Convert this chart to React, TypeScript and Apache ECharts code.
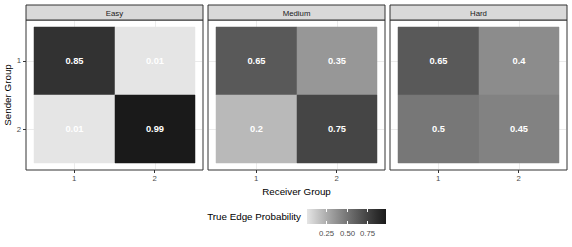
import React, { useEffect, useRef } from "react";
import * as echarts from "echarts";

const panelNames = ["Easy", "Medium", "Hard"];
const receiverGroups = ["1", "2"];
const senderGroups = ["1", "2"];
// values ordered: [sender1-receiver1, sender1-receiver2, sender2-receiver1, sender2-receiver2]
const easyValues = [0.85, 0.01, 0.01, 0.99];
const mediumValues = [0.65, 0.35, 0.2, 0.75];
const hardValues = [0.65, 0.4, 0.5, 0.45];
const panelValues = [easyValues, mediumValues, hardValues];
const legendTicks = [0.25, 0.5, 0.75];
const legendTitle = "True Edge Probability";
const xTitle = "Receiver Group";
const yTitle = "Sender Group";

const FONT = "Liberation Sans";
const grayStops = ["#e5e5e5", "#c8c8c8", "#acacac", "#919191", "#777777", "#5e5e5e", "#464646", "#2f2f2f", "#1a1a1a"];

export default function App() {
  const ref = useRef<HTMLDivElement>(null);
  useEffect(() => {
    if (!ref.current) return;
    const chart = echarts.init(ref.current, undefined, { renderer: "svg" });
    const all = panelValues.flat();
    const vMin = Math.min(...all);
    const vMax = Math.max(...all);

    const gridLefts = [26, 208, 390];
    const gridW = 177;
    const gridTop = 20;
    const gridH = 150;
    const axisMin = 0.4;
    const axisMax = 2.6;
    const tickVals = receiverGroups.map((_, i) => i + 1);

    const grids = gridLefts.map((l) => ({
      left: l, top: gridTop, width: gridW, height: gridH,
      show: true, borderColor: "#333333", borderWidth: 1, backgroundColor: "#ffffff",
    }));

    const xAxes = gridLefts.map((_, i) => ({
      gridIndex: i, type: "value", min: axisMin, max: axisMax,
      axisLine: { show: false },
      axisTick: { show: true, customValues: tickVals, length: 3, lineStyle: { color: "#333333" } },
      axisLabel: { customValues: tickVals, formatter: (v: number) => receiverGroups[v - 1] ?? "", color: "#4d4d4d", fontSize: 7.8, fontFamily: FONT, margin: 4 },
      splitLine: { show: false },
      name: i === 1 ? xTitle : "",
      nameLocation: "middle", nameGap: 14,
      nameTextStyle: { fontSize: 9.8, color: "#000", fontFamily: FONT },
    }));
    const yAxes = gridLefts.map((_, i) => ({
      gridIndex: i, type: "value", min: axisMin, max: axisMax, inverse: true,
      axisLine: { show: false },
      axisTick: { show: i === 0, customValues: tickVals, length: 3, lineStyle: { color: "#333333" } },
      axisLabel: { show: i === 0, customValues: tickVals, formatter: (v: number) => senderGroups[v - 1] ?? "", color: "#4d4d4d", fontSize: 7.8, fontFamily: FONT, margin: 5 },
      splitLine: { show: false },
      name: i === 0 ? yTitle : "",
      nameLocation: "middle", nameGap: 12, nameRotate: 90,
      nameTextStyle: { fontSize: 9.8, color: "#000", fontFamily: FONT },
    }));

    const gridLineSeries = gridLefts.map((_, i) => ({
      type: "custom", xAxisIndex: i, yAxisIndex: i, z: 1, silent: true,
      data: [[1, 0], [2, 0], [1, 1], [2, 1]],
      renderItem: (params: any, api: any) => {
        const cs = params.coordSys;
        const val = api.value(0);
        const horiz = api.value(1) === 1;
        if (!horiz) {
          const px = Math.round(api.coord([val, 1])[0]) + 0.5;
          return { type: "line", shape: { x1: px, y1: cs.y + 1, x2: px, y2: cs.y + cs.height - 1 }, style: { stroke: "#ebebeb", lineWidth: 1 } };
        }
        const py = Math.round(api.coord([1, val])[1]) + 0.5;
        return { type: "line", shape: { x1: cs.x + 1, y1: py, x2: cs.x + cs.width - 1, y2: py }, style: { stroke: "#ebebeb", lineWidth: 1 } };
      },
    }));

    const tileSeries = panelValues.map((vals, i) => ({
      type: "custom", xAxisIndex: i, yAxisIndex: i, z: 2, silent: true,
      data: vals.map((v, k) => [(k % 2) + 1, Math.floor(k / 2) + 1, v]),
      renderItem: (params: any, api: any) => {
        const x = api.value(0), y = api.value(1), v = api.value(2);
        const p1 = api.coord([x - 0.5, y - 0.5]);
        const p2 = api.coord([x + 0.5, y + 0.5]);
        const left = Math.round(Math.min(p1[0], p2[0]));
        const top = Math.round(Math.min(p1[1], p2[1]));
        const right = Math.round(Math.max(p1[0], p2[0]));
        const bottom = Math.round(Math.max(p1[1], p2[1]));
        const w = right - left;
        const h = bottom - top;
        return {
          type: "group",
          children: [
            { type: "rect", shape: { x: left, y: top, width: w, height: h }, style: { fill: api.visual("color"), stroke: api.visual("color"), lineWidth: 0.5 } },
            { type: "text", style: { text: String(v), x: left + w / 2, y: top + h / 2, align: "center", verticalAlign: "middle", fill: "#ffffff", fontSize: 9.3, fontWeight: "bold", fontFamily: FONT } },
          ],
        };
      },
    }));

    // legend colorbar
    const barX = 307, barY = 209, barW = 79, barH = 15;
    const toBarX = (v: number) => barX + ((v - vMin) / (vMax - vMin)) * barW;
    const graphics: any[] = [];
    gridLefts.forEach((l, i) => {
      graphics.push({
        type: "rect", shape: { x: l, y: 5, width: gridW, height: gridTop - 5 },
        style: { fill: "#d9d9d9", stroke: "#333333", lineWidth: 1 }, z: 10,
      });
      graphics.push({
        type: "text", x: l + gridW / 2, y: (5 + gridTop) / 2 + 0.5,
        style: { text: panelNames[i], align: "center", verticalAlign: "middle", fill: "#1a1a1a", fontSize: 7.8, fontFamily: FONT }, z: 11,
      });
    });
    graphics.push({
      type: "rect", shape: { x: barX, y: barY, width: barW, height: barH },
      style: {
        fill: {
          type: "linear", x: 0, y: 0, x2: 1, y2: 0,
          colorStops: grayStops.map((c, k) => ({ offset: k / (grayStops.length - 1), color: c })),
        },
      },
    });
    legendTicks.forEach((t) => {
      const px = Math.round(toBarX(t)) + 0.5;
      graphics.push({ type: "line", shape: { x1: px, y1: barY, x2: px, y2: barY + 3 }, style: { stroke: "#ffffff", lineWidth: 1 }, z: 5 });
      graphics.push({ type: "line", shape: { x1: px, y1: barY + barH - 3, x2: px, y2: barY + barH }, style: { stroke: "#ffffff", lineWidth: 1 }, z: 5 });
      graphics.push({
        type: "text", x: px, y: 233,
        style: { text: t.toFixed(2), align: "center", verticalAlign: "middle", fill: "#4d4d4d", fontSize: 7.8, fontFamily: FONT },
      });
    });
    graphics.push({
      type: "text", x: 301, y: barY + barH / 2,
      style: { text: legendTitle, align: "right", verticalAlign: "middle", fill: "#000000", fontSize: 9.8, fontFamily: FONT },
    });

    chart.setOption({
      animation: false,
      backgroundColor: "#ffffff",
      grid: grids,
      xAxis: xAxes,
      yAxis: yAxes,
      visualMap: {
        show: false, type: "continuous", min: vMin, max: vMax, dimension: 2,
        seriesIndex: tileSeries.map((_, i) => gridLineSeries.length + i),
        inRange: { color: grayStops },
      },
      series: [...gridLineSeries, ...tileSeries],
      graphic: graphics,
    } as any);
    return () => chart.dispose();
  }, []);
  return <div ref={ref} style={{ position: "absolute", left: 0, top: 0, width: 572, height: 247 }} />;
}
